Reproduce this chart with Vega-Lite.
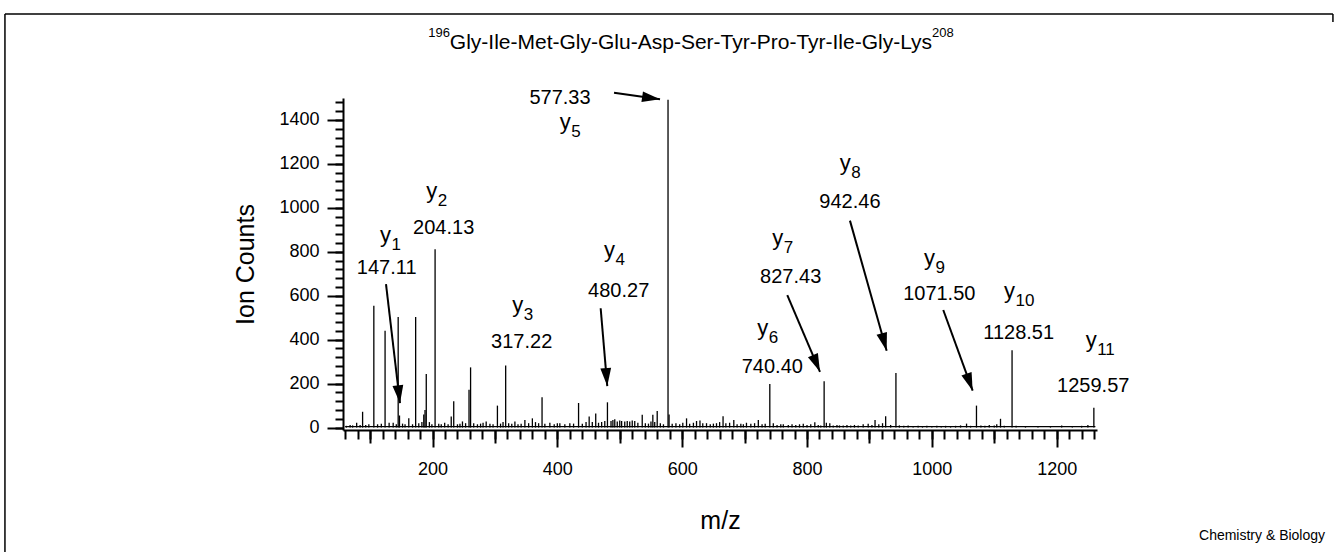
{
  "$schema": "https://vega.github.io/schema/vega-lite/v6.json",
  "width": 754,
  "height": 332,
  "autosize": {"type": "none"},
  "padding": {"left": 343, "top": 98, "right": 239, "bottom": 122},
  "background": "white",
  "config": {
    "view": {"stroke": null},
    "font": "Liberation Sans",
    "axis": {
      "grid": false,
      "domainColor": "black",
      "tickColor": "black",
      "labelColor": "black",
      "titleColor": "black",
      "labelFont": "Liberation Sans",
      "titleFont": "Liberation Sans",
      "titleFontWeight": "normal",
      "labelOverlap": false
    }
  },
  "datasets": {
    "peaks": [
      {"mz": 62, "i": 8}, {"mz": 68, "i": 12}, {"mz": 72, "i": 10}, {"mz": 78.5, "i": 22}, {"mz": 84, "i": 12},
      {"mz": 88, "i": 72}, {"mz": 93, "i": 12}, {"mz": 98, "i": 15}, {"mz": 106, "i": 555}, {"mz": 112, "i": 15},
      {"mz": 118, "i": 18}, {"mz": 124, "i": 441}, {"mz": 130.5, "i": 22}, {"mz": 137, "i": 22}, {"mz": 142, "i": 15},
      {"mz": 145, "i": 503}, {"mz": 147.11, "i": 55}, {"mz": 152, "i": 18}, {"mz": 156, "i": 15}, {"mz": 162, "i": 42},
      {"mz": 168, "i": 15}, {"mz": 173, "i": 503}, {"mz": 178, "i": 20}, {"mz": 183, "i": 25}, {"mz": 186, "i": 60},
      {"mz": 188, "i": 80}, {"mz": 190, "i": 244}, {"mz": 195, "i": 25}, {"mz": 199, "i": 15}, {"mz": 204.13, "i": 812},
      {"mz": 210, "i": 18}, {"mz": 214, "i": 15}, {"mz": 219.5, "i": 22}, {"mz": 225, "i": 15}, {"mz": 230, "i": 50},
      {"mz": 234, "i": 120}, {"mz": 240, "i": 15}, {"mz": 244, "i": 18}, {"mz": 248, "i": 28}, {"mz": 253, "i": 20},
      {"mz": 258.5, "i": 172}, {"mz": 261, "i": 274}, {"mz": 266, "i": 20}, {"mz": 272, "i": 15}, {"mz": 277, "i": 18},
      {"mz": 281, "i": 22}, {"mz": 286, "i": 28}, {"mz": 292, "i": 18}, {"mz": 297, "i": 15}, {"mz": 304, "i": 100},
      {"mz": 309, "i": 18}, {"mz": 313, "i": 25}, {"mz": 317.22, "i": 282}, {"mz": 322, "i": 20}, {"mz": 327, "i": 18},
      {"mz": 332, "i": 28}, {"mz": 337, "i": 15}, {"mz": 342, "i": 18}, {"mz": 348, "i": 35}, {"mz": 354, "i": 20},
      {"mz": 360, "i": 42}, {"mz": 365, "i": 25}, {"mz": 370, "i": 20}, {"mz": 375.5, "i": 138}, {"mz": 380, "i": 18},
      {"mz": 388, "i": 22}, {"mz": 395, "i": 15}, {"mz": 400, "i": 20}, {"mz": 404, "i": 20}, {"mz": 412, "i": 15},
      {"mz": 420, "i": 20}, {"mz": 426, "i": 18}, {"mz": 434, "i": 112}, {"mz": 440, "i": 18}, {"mz": 446, "i": 25},
      {"mz": 451, "i": 50}, {"mz": 456, "i": 25}, {"mz": 461.5, "i": 64}, {"mz": 466, "i": 22}, {"mz": 471, "i": 25},
      {"mz": 476, "i": 30}, {"mz": 480.27, "i": 115}, {"mz": 486, "i": 30}, {"mz": 489, "i": 35}, {"mz": 492, "i": 38},
      {"mz": 496, "i": 28}, {"mz": 500, "i": 32}, {"mz": 503, "i": 30}, {"mz": 508, "i": 28}, {"mz": 512, "i": 30},
      {"mz": 516, "i": 28}, {"mz": 520, "i": 32}, {"mz": 524, "i": 30}, {"mz": 529, "i": 22}, {"mz": 536, "i": 58},
      {"mz": 541, "i": 20}, {"mz": 546, "i": 18}, {"mz": 550, "i": 28}, {"mz": 553, "i": 58}, {"mz": 556, "i": 25},
      {"mz": 560, "i": 75}, {"mz": 565, "i": 20}, {"mz": 570, "i": 15}, {"mz": 577.33, "i": 1492}, {"mz": 579, "i": 60},
      {"mz": 584, "i": 18}, {"mz": 590, "i": 20}, {"mz": 596, "i": 15}, {"mz": 601, "i": 22}, {"mz": 607, "i": 42},
      {"mz": 612, "i": 18}, {"mz": 618, "i": 22}, {"mz": 623, "i": 30}, {"mz": 628.5, "i": 32}, {"mz": 633, "i": 20},
      {"mz": 639, "i": 20}, {"mz": 645, "i": 15}, {"mz": 650, "i": 18}, {"mz": 655, "i": 20}, {"mz": 660, "i": 25},
      {"mz": 665.5, "i": 52}, {"mz": 670, "i": 20}, {"mz": 676, "i": 22}, {"mz": 682.7, "i": 35}, {"mz": 688, "i": 15},
      {"mz": 694, "i": 18}, {"mz": 698, "i": 15}, {"mz": 703, "i": 22}, {"mz": 710, "i": 18}, {"mz": 716, "i": 20},
      {"mz": 722, "i": 35}, {"mz": 728, "i": 15}, {"mz": 733, "i": 18}, {"mz": 740.4, "i": 198}, {"mz": 746, "i": 20},
      {"mz": 752, "i": 12}, {"mz": 758, "i": 15}, {"mz": 762, "i": 15}, {"mz": 770, "i": 12}, {"mz": 776, "i": 15},
      {"mz": 782, "i": 12}, {"mz": 788, "i": 15}, {"mz": 794, "i": 18}, {"mz": 800, "i": 12}, {"mz": 806, "i": 15},
      {"mz": 812.5, "i": 24}, {"mz": 818, "i": 12}, {"mz": 822, "i": 10}, {"mz": 827.43, "i": 211}, {"mz": 831, "i": 22},
      {"mz": 836.5, "i": 20}, {"mz": 842, "i": 10}, {"mz": 848, "i": 12}, {"mz": 852, "i": 10}, {"mz": 858, "i": 10},
      {"mz": 864, "i": 12}, {"mz": 870, "i": 10}, {"mz": 876, "i": 12}, {"mz": 882, "i": 10}, {"mz": 890, "i": 15},
      {"mz": 898, "i": 18}, {"mz": 904, "i": 12}, {"mz": 909, "i": 35}, {"mz": 915, "i": 15}, {"mz": 921, "i": 20},
      {"mz": 926, "i": 52}, {"mz": 934, "i": 12}, {"mz": 942.46, "i": 248}, {"mz": 948, "i": 10}, {"mz": 955, "i": 8},
      {"mz": 962, "i": 9}, {"mz": 970, "i": 7}, {"mz": 978, "i": 8}, {"mz": 985, "i": 7}, {"mz": 992, "i": 8},
      {"mz": 1000, "i": 7}, {"mz": 1008, "i": 8}, {"mz": 1015, "i": 7}, {"mz": 1022, "i": 8}, {"mz": 1030, "i": 7},
      {"mz": 1038, "i": 8}, {"mz": 1046, "i": 10}, {"mz": 1055.6, "i": 18}, {"mz": 1062, "i": 8}, {"mz": 1071.5, "i": 100},
      {"mz": 1078.6, "i": 10}, {"mz": 1085, "i": 8}, {"mz": 1092, "i": 12}, {"mz": 1100, "i": 10}, {"mz": 1104, "i": 15},
      {"mz": 1110, "i": 40}, {"mz": 1116, "i": 8}, {"mz": 1128.51, "i": 352}, {"mz": 1135, "i": 8}, {"mz": 1150, "i": 5},
      {"mz": 1170, "i": 5}, {"mz": 1190, "i": 6}, {"mz": 1208, "i": 10}, {"mz": 1225, "i": 5}, {"mz": 1240, "i": 8},
      {"mz": 1250, "i": 12}, {"mz": 1259.57, "i": 90}
    ],
    "labels": [
      {"n": "1", "jx": 133.5, "jy": 846, "mass": "147.11", "mx": 126.6, "my": 698},
      {"n": "2", "jx": 207.7, "jy": 1046, "mass": "204.13", "mx": 217.9, "my": 881},
      {"n": "3", "jx": 345.5, "jy": 527, "mass": "317.22", "mx": 342.9, "my": 361},
      {"n": "4", "jx": 492.4, "jy": 778, "mass": "480.27", "mx": 498.3, "my": 596},
      {"n": "5", "jx": 421.4, "jy": 1359, "mass": "577.33", "mx": 404.2, "my": 1473},
      {"n": "6", "jx": 738, "jy": 421, "mass": "740.40", "mx": 744.4, "my": 250},
      {"n": "7", "jx": 762, "jy": 831, "mass": "827.43", "mx": 773.8, "my": 659},
      {"n": "8", "jx": 869.9, "jy": 1172, "mass": "942.46", "mx": 868.8, "my": 998},
      {"n": "9", "jx": 1005, "jy": 740, "mass": "1071.50", "mx": 1011.9, "my": 581},
      {"n": "10", "jx": 1133.2, "jy": 588, "mass": "1128.51", "mx": 1139.1, "my": 402},
      {"n": "11", "jx": 1264, "jy": 368, "mass": "1259.57", "mx": 1258.6, "my": 163}
    ],
    "arrows": [
      {"ion": "y1", "x1": 125.5, "y1": 653, "x2": 147.9, "y2": 111, "angle": -6.7},
      {"ion": "y4", "x1": 469.4, "y1": 543, "x2": 480, "y2": 189, "angle": -4.9},
      {"ion": "y5", "x1": 490.8, "y1": 1524, "x2": 564.5, "y2": 1494, "angle": -81.8},
      {"ion": "y7", "x1": 768.4, "y1": 603, "x2": 820.8, "y2": 254, "angle": -23.1},
      {"ion": "y8", "x1": 868.8, "y1": 942, "x2": 927.6, "y2": 350, "angle": -15.8},
      {"ion": "y9", "x1": 1018.3, "y1": 535, "x2": 1065.4, "y2": 168, "angle": -20.0}
    ],
    "heading": [
      {"t": "Gly-Ile-Met-Gly-Glu-Asp-Ser-Tyr-Pro-Tyr-Ile-Gly-Lys", "x": 614.1, "y": 1723, "part": "main"},
      {"t": "196", "x": 228, "y": 1778, "part": "left"},
      {"t": "208", "x": 1000.2, "y": 1778, "part": "right"}
    ],
    "frame": [
      {"x": -485, "x2": 1642.6, "y": 1882, "y2": 1882},
      {"x": -485, "x2": -485, "y": 1882, "y2": -566},
      {"x": 1642.6, "x2": 1642.6, "y": 1882, "y2": 1846}
    ]
  },
  "resolve": {"axis": {"x": "independent", "y": "independent"}},
  "layer": [
    {
      "data": {"name": "peaks"},
      "mark": {"type": "rule", "color": "black", "strokeWidth": 1.3},
      "encoding": {
        "x": {
          "field": "mz", "type": "quantitative",
          "scale": {"domain": [56.6, 1264.6], "nice": false, "zero": false},
          "axis": {
            "orient": "bottom", "values": [200, 400, 600, 800, 1000, 1200], "format": "d",
            "tickSize": 17, "tickWidth": 2, "domainWidth": 2,
            "labelFontSize": 18, "labelPadding": 13, "labelFlush": false,
            "title": "m/z", "titleFontSize": 25, "titlePadding": 30
          }
        },
        "y": {
          "field": "i", "type": "quantitative",
          "scale": {"domain": [-11, 1500], "nice": false, "zero": false},
          "axis": {
            "orient": "left", "values": [0, 200, 400, 600, 800, 1000, 1200, 1400], "format": "d",
            "tickSize": 16, "tickWidth": 2, "domainWidth": 2,
            "labelFontSize": 18, "labelPadding": 8,
            "title": "Ion Counts", "titleFontSize": 25, "titlePadding": 20
          }
        },
        "y2": {"datum": 0}
      }
    },
    {
      "data": {"values": [{}]},
      "mark": {"type": "rule", "color": "black", "strokeWidth": 1.2},
      "encoding": {
        "x": {
          "datum": 60, "type": "quantitative",
          "scale": {"domain": [56.6, 1264.6], "nice": false, "zero": false},
          "axis": {
            "orient": "bottom",
            "values": [60, 80, 100, 120, 140, 160, 180, 200, 220, 240, 260, 280, 300, 320, 340, 360, 380, 400, 420, 440, 460, 480, 500, 520, 540, 560, 580, 600, 620, 640, 660, 680, 700, 720, 740, 760, 780, 800, 820, 840, 860, 880, 900, 920, 940, 960, 980, 1000, 1020, 1040, 1060, 1080, 1100, 1120, 1140, 1160, 1180, 1200, 1220, 1240, 1260],
            "tickSize": 9, "tickWidth": 2, "labels": false, "domain": false, "title": null
          }
        },
        "x2": {"datum": 1262},
        "y": {
          "datum": 4, "type": "quantitative",
          "scale": {"domain": [-11, 1500], "nice": false, "zero": false},
          "axis": {
            "orient": "left",
            "values": [0, 40, 80, 120, 160, 200, 240, 280, 320, 360, 400, 440, 480, 520, 560, 600, 640, 680, 720, 760, 800, 840, 880, 920, 960, 1000, 1040, 1080, 1120, 1160, 1200, 1240, 1280, 1320, 1360, 1400, 1440, 1480],
            "tickSize": 8, "tickWidth": 2, "labels": false, "domain": false, "title": null
          }
        }
      }
    },
    {
      "data": {"name": "arrows"},
      "mark": {"type": "rule", "color": "black", "strokeWidth": 2},
      "encoding": {
        "x": {
          "field": "x1", "type": "quantitative",
          "scale": {"domain": [56.6, 1264.6], "nice": false, "zero": false},
          "axis": {
            "orient": "bottom", "values": [100, 300, 500, 700, 900, 1100],
            "tickSize": 13, "tickWidth": 2, "labels": false, "domain": false, "title": null
          }
        },
        "y": {"field": "y1", "type": "quantitative", "scale": {"domain": [-11, 1500], "nice": false, "zero": false}, "axis": null},
        "x2": {"field": "x2"},
        "y2": {"field": "y2"}
      }
    },
    {
      "data": {"name": "arrows"},
      "mark": {"type": "point", "shape": "M-0.6,-2L0.6,-2L0,0Z", "filled": true, "color": "black", "opacity": 1, "size": 324, "strokeWidth": 0},
      "encoding": {
        "x": {"field": "x2", "type": "quantitative", "scale": {"domain": [56.6, 1264.6], "nice": false, "zero": false}, "axis": null},
        "y": {"field": "y2", "type": "quantitative", "scale": {"domain": [-11, 1500], "nice": false, "zero": false}, "axis": null},
        "angle": {"field": "angle", "type": "quantitative", "scale": null}
      }
    },
    {
      "data": {"name": "labels"},
      "mark": {"type": "text", "align": "right", "baseline": "alphabetic", "fontSize": 22, "color": "black"},
      "encoding": {
        "x": {"field": "jx", "type": "quantitative", "scale": {"domain": [56.6, 1264.6], "nice": false, "zero": false}, "axis": null},
        "y": {"field": "jy", "type": "quantitative", "scale": {"domain": [-11, 1500], "nice": false, "zero": false}, "axis": null},
        "text": {"value": "y"}
      }
    },
    {
      "data": {"name": "labels"},
      "mark": {"type": "text", "align": "left", "baseline": "alphabetic", "fontSize": 17, "dy": 8, "dx": 0.5, "color": "black"},
      "encoding": {
        "x": {"field": "jx", "type": "quantitative", "scale": {"domain": [56.6, 1264.6], "nice": false, "zero": false}, "axis": null},
        "y": {"field": "jy", "type": "quantitative", "scale": {"domain": [-11, 1500], "nice": false, "zero": false}, "axis": null},
        "text": {"field": "n"}
      }
    },
    {
      "data": {"name": "labels"},
      "mark": {"type": "text", "align": "center", "baseline": "alphabetic", "fontSize": 20, "color": "black"},
      "encoding": {
        "x": {"field": "mx", "type": "quantitative", "scale": {"domain": [56.6, 1264.6], "nice": false, "zero": false}, "axis": null},
        "y": {"field": "my", "type": "quantitative", "scale": {"domain": [-11, 1500], "nice": false, "zero": false}, "axis": null},
        "text": {"field": "mass"}
      }
    },
    {
      "data": {"name": "heading"},
      "transform": [{"filter": "datum.part === 'main'"}],
      "mark": {"type": "text", "align": "center", "baseline": "alphabetic", "fontSize": 21, "color": "black"},
      "encoding": {
        "x": {"field": "x", "type": "quantitative", "scale": {"domain": [56.6, 1264.6], "nice": false, "zero": false}, "axis": null},
        "y": {"field": "y", "type": "quantitative", "scale": {"domain": [-11, 1500], "nice": false, "zero": false}, "axis": null},
        "text": {"field": "t"}
      }
    },
    {
      "data": {"name": "heading"},
      "transform": [{"filter": "datum.part === 'left'"}],
      "mark": {"type": "text", "align": "right", "baseline": "alphabetic", "fontSize": 13, "color": "black"},
      "encoding": {
        "x": {"field": "x", "type": "quantitative", "scale": {"domain": [56.6, 1264.6], "nice": false, "zero": false}, "axis": null},
        "y": {"field": "y", "type": "quantitative", "scale": {"domain": [-11, 1500], "nice": false, "zero": false}, "axis": null},
        "text": {"field": "t"}
      }
    },
    {
      "data": {"name": "heading"},
      "transform": [{"filter": "datum.part === 'right'"}],
      "mark": {"type": "text", "align": "left", "baseline": "alphabetic", "fontSize": 13, "color": "black"},
      "encoding": {
        "x": {"field": "x", "type": "quantitative", "scale": {"domain": [56.6, 1264.6], "nice": false, "zero": false}, "axis": null},
        "y": {"field": "y", "type": "quantitative", "scale": {"domain": [-11, 1500], "nice": false, "zero": false}, "axis": null},
        "text": {"field": "t"}
      }
    },
    {
      "data": {"name": "frame"},
      "mark": {"type": "rule", "color": "black", "strokeWidth": 1.5},
      "encoding": {
        "x": {"field": "x", "type": "quantitative", "scale": {"domain": [56.6, 1264.6], "nice": false, "zero": false}, "axis": null},
        "x2": {"field": "x2"},
        "y": {"field": "y", "type": "quantitative", "scale": {"domain": [-11, 1500], "nice": false, "zero": false}, "axis": null},
        "y2": {"field": "y2"}
      }
    },
    {
      "data": {"values": [{}]},
      "mark": {"type": "text", "align": "center", "baseline": "alphabetic", "fontSize": 14, "color": "black"},
      "encoding": {
        "x": {"datum": 1529, "type": "quantitative", "scale": {"domain": [56.6, 1264.6], "nice": false, "zero": false}, "axis": null},
        "y": {"datum": -512, "type": "quantitative", "scale": {"domain": [-11, 1500], "nice": false, "zero": false}, "axis": null},
        "text": {"value": "Chemistry & Biology"}
      }
    }
  ]
}
